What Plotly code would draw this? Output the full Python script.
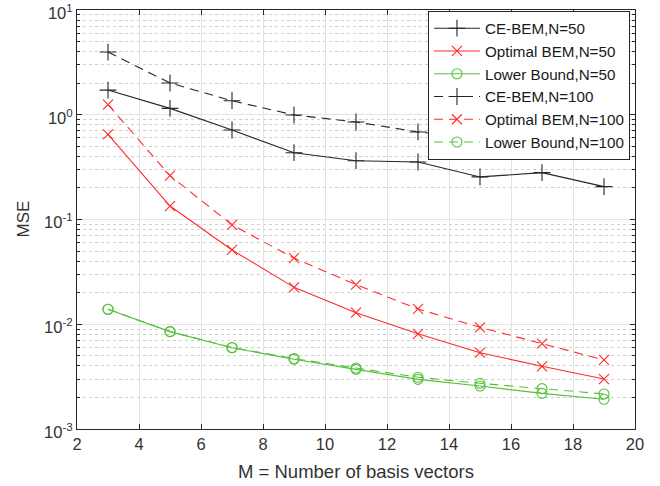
import plotly.graph_objects as go

M = [3, 5, 7, 9, 11, 13, 15, 17, 19]
ce_bem_50 = [1.72, 1.15, 0.715, 0.434, 0.364, 0.354, 0.255, 0.280, 0.206]
opt_bem_50 = [0.650, 0.1345, 0.0512, 0.0225, 0.0129, 0.0081, 0.00535, 0.00397, 0.0030]
lower_50 = [0.0139, 0.0085, 0.00597, 0.00463, 0.00371, 0.00298, 0.00257, 0.00219, 0.00192]
ce_bem_100 = [3.97, 2.01, 1.36, 0.995, 0.853, 0.685, 0.600, 0.561, 0.514]
opt_bem_100 = [1.25, 0.262, 0.089, 0.0428, 0.0239, 0.0140, 0.00935, 0.00652, 0.00456]
lower_100 = [0.0139, 0.0085, 0.0060, 0.00471, 0.00382, 0.00312, 0.00273, 0.00243, 0.00216]

names = ["CE-BEM,N=50", "Optimal BEM,N=50", "Lower Bound,N=50",
         "CE-BEM,N=100", "Optimal BEM,N=100", "Lower Bound,N=100"]
series = [ce_bem_50, opt_bem_50, lower_50, ce_bem_100, opt_bem_100, lower_100]

BLACK = "#262626"
RED = "#ff2a2a"
GREEN = "#55c23a"
colors = [BLACK, RED, GREEN, BLACK, RED, GREEN]
symbols = ["cross-thin-open", "x-thin-open", "circle-open"] * 2
sizes = [12, 10, 10] * 2
dashes = ["solid"] * 3 + ["9px,6px"] * 3

fig = go.Figure()
for name, ys, c, s, sz, d in zip(names, series, colors, symbols, sizes, dashes):
    fig.add_trace(go.Scatter(
        x=M, y=ys, name=name, mode="lines+markers",
        line=dict(color=c, width=1.1, dash=d),
        marker=dict(symbol=s, size=sz, color=c, line=dict(color=c, width=1.1)),
    ))

decades = [1e-3, 1e-2, 1e-1, 1, 10]
dec_text = ["10<sup>-3</sup>", "10<sup>-2</sup>", "10<sup>-1</sup>", "10<sup>0</sup>", "10<sup>1</sup>"]
minor_vals = [k * 10.0 ** e for e in range(-3, 1) for k in range(2, 10)]

FONT = "Liberation Sans, Arial, sans-serif"
TXT = "#333333"
axis_font = dict(family=FONT, size=16.5, color=TXT)

fig.update_layout(
    width=660, height=486,
    margin=dict(l=77, r=25, t=10, b=57),
    paper_bgcolor="white", plot_bgcolor="white",
    font=dict(family=FONT, size=15, color=TXT),
    showlegend=True,
    legend=dict(x=0.991, y=0.998, xanchor="right", yanchor="top",
                bgcolor="white", bordercolor="#262626", borderwidth=1,
                font=dict(family=FONT, size=15.2, color="#1a1a1a"),
                tracegroupgap=0, itemwidth=46),
    annotations=[
        dict(text="M = Number of basis vectors", xref="paper", yref="paper",
             x=0.5, y=0, xanchor="center", yanchor="middle", yshift=-42,
             showarrow=False, font=dict(family=FONT, size=18.5, color=TXT)),
        dict(text="MSE", xref="paper", yref="paper", textangle=-90,
             x=0, y=0.5, xanchor="center", yanchor="middle", xshift=-54,
             showarrow=False, font=dict(family=FONT, size=17, color=TXT)),
    ],
)
fig.update_xaxes(
    range=[2, 20], tickmode="linear", tick0=2, dtick=2,
    showgrid=True, gridcolor="#e3e3e3", gridwidth=1,
    ticks="inside", ticklen=5, tickcolor="#262626",
    showline=True, linecolor="#262626", linewidth=1, mirror="ticks",
    tickfont=axis_font, zeroline=False, automargin=False, ticklabeloverflow="allow",
)
fig.update_yaxes(
    type="log", range=[-3, 1], tickmode="array", tickvals=decades, ticktext=dec_text,
    showgrid=True, gridcolor="#e3e3e3", gridwidth=1,
    ticks="inside", ticklen=5, tickcolor="#262626",
    showline=True, linecolor="#262626", linewidth=1, mirror="ticks",
    tickfont=axis_font, zeroline=False, automargin=False, ticklabelshift=3,
    ticklabeloverflow="allow",
    minor=dict(tickmode="array", tickvals=minor_vals, ticks="inside", ticklen=3,
               tickcolor="#262626", showgrid=True, gridcolor="#cfcfcf", griddash="dot", gridwidth=1),
)

fig.write_html("out.html", config={"displayModeBar": False},
               post_script="document.body.style.margin='0px';")
